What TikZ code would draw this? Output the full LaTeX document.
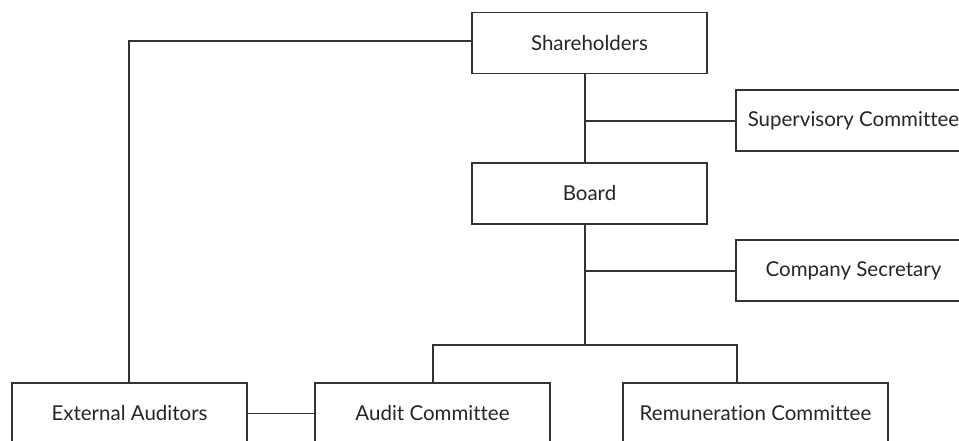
\documentclass[tikz,border=0pt]{standalone}
\usepackage{fontspec}
\setmainfont[Ligatures={NoCommon}]{Lato}
\begin{document}
\begin{tikzpicture}[x=1pt,y=-1pt,
  ln/.style={draw=black!80, line width=1.4pt},
  box/.style={ln, fill=white, minimum height=61pt, inner sep=0pt, font=\fontsize{20.5}{22}\selectfont, text=black!85},
  w235/.style={box, minimum width=235pt},
  w265/.style={box, minimum width=265pt}]
\useasboundingbox (0,0) rectangle (959,440);
\clip (0,0) rectangle (959,440);
\node[w235] (sh) at (589.5,43) {Shareholders};
\node[w235] (sup) at (853.5,120.5) {Supervisory Committee};
\node[w235] (bd) at (589.5,193.5) {Board};
\node[w235] (cs) at (853.5,270.5) {Company Secretary};
\node[w235] (ea) at (129.5,413.5) {External Auditors};
\node[w235] (ac) at (432.5,413.5) {Audit Committee};
\node[w265] (rc) at (755.5,413.5) {Remuneration Committee};
\coordinate (j1) at (585,121);
\coordinate (j2) at (585,271);
\coordinate (j3) at (585,345);
\coordinate (bl) at (433,345);
\coordinate (br) at (737,345);
\coordinate (tl) at (129,41);
\draw[ln] (j1 |- sh.south) -- (j1 |- bd.north);
\draw[ln] (j1) -- (j1 -| sup.west);
\draw[ln] (j2 |- bd.south) -- (j3);
\draw[ln] (j2) -- (j2 -| cs.west);
\draw[ln] (bl |- ac.north) -- (bl) -- (br) -- (br |- rc.north);
\draw[ln] (ea.east) -- (ac.west);
\draw[ln] (tl |- ea.north) -- (tl) -- (tl -| sh.west);
\end{tikzpicture}
\end{document}
